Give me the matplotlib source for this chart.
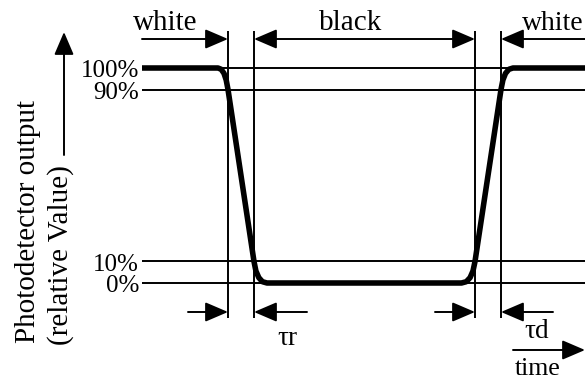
import matplotlib
matplotlib.use("Agg")
import matplotlib.pyplot as plt
from matplotlib.patches import FancyArrowPatch

# ---- data ----
level_values = [100, 90, 10, 0]
level_labels = ["100%", "90%", "10%", "0%"]

# photodetector output waveform (time in arbitrary units, value in %)
wave_t = [0, 76, 79.2, 82, 84.2, 86, 112, 113.9, 116.8, 120.4, 125,
          319.5, 324.3, 328.1, 331, 333, 359, 360.9, 363.5, 366.9, 371, 443]
wave_v = [100, 100, 99.4, 97.5, 94.4, 90, 10, 5.6, 2.5, 0.6, 0,
          0, 0.6, 2.5, 5.6, 10, 90, 94.4, 97.5, 99.4, 100, 100]

# times of the 90% / 10% crossings: fall 90, fall 10, rise 10, rise 90
edge_times = [86, 112, 333, 359]
t_start, t_end = 0, 443

plt.rcParams["font.family"] = ["Liberation Serif", "DejaVu Serif"]

fig = plt.figure(figsize=(5.85, 3.82), dpi=100)
ax = fig.add_axes([0, 0, 1, 1])
ax.set_xlim(-142, 443)
ax.set_ylim(-46.05, 131.63)
ax.axis("off")

def Y(py):
    return (283 - py) / 2.15

def X(px):
    return px - 142

thin = 1.4
# level lines
for v in level_values:
    ax.plot([t_start, t_end], [v, v], color="black", lw=thin, solid_capstyle="butt")

# vertical marker lines
for t in edge_times:
    ax.plot([t, t], [Y(31), Y(318)], color="black", lw=thin, solid_capstyle="butt")

# waveform
ax.plot(wave_t, wave_v, color="black", lw=4.0, solid_joinstyle="round",
        solid_capstyle="butt")

def arrow(p0, p1, style="-|>"):
    a = FancyArrowPatch(p0, p1, arrowstyle=f"{style},head_length=14,head_width=6",
                        mutation_scale=1, lw=thin, color="black",
                        shrinkA=0, shrinkB=0)
    ax.add_patch(a)

ytop = Y(39)
ybot = Y(312)
# top arrows
arrow((t_start, ytop), (edge_times[0], ytop))
arrow((edge_times[1], ytop), (edge_times[2], ytop), style="<|-|>")
arrow((t_end, ytop), (edge_times[3], ytop))
# bottom arrows
arrow((X(188), ybot), (edge_times[0], ybot))
arrow((X(307), ybot), (edge_times[1], ybot))
arrow((X(435), ybot), (edge_times[2], ybot))
arrow((X(553), ybot), (edge_times[3], ybot))
# time arrow
arrow((X(513), Y(350)), (X(585), Y(350)))
# y axis arrow
arrow((X(64), Y(155)), (X(64), Y(32)))

fs = 21
ax.text(X(165), Y(30), "white", fontsize=fs, ha="center", va="baseline")
ax.text(X(351), Y(30), "black", fontsize=fs, ha="center", va="baseline")
ax.text(X(522), Y(30), "white", fontsize=20, ha="left", va="baseline")

for v, lab in zip(level_values, level_labels):
    ax.text(X(139), v - 4.2, lab, fontsize=18, ha="right", va="baseline")

ax.text(X(277), Y(345), "τr", fontsize=19.5, ha="left", va="baseline")
ax.text(X(524), Y(338), "τd", fontsize=19.5, ha="left", va="baseline")
ax.text(X(515), Y(375), "time", fontsize=18.5, ha="left", va="baseline")

ax.text(X(35), Y(343), "Photodetector output", fontsize=fs, rotation=90,
        rotation_mode="anchor", ha="left", va="baseline")
ax.text(X(68), Y(345), "(relative Value)", fontsize=fs, rotation=90,
        rotation_mode="anchor", ha="left", va="baseline")

fig.savefig("out.png", dpi=100)
